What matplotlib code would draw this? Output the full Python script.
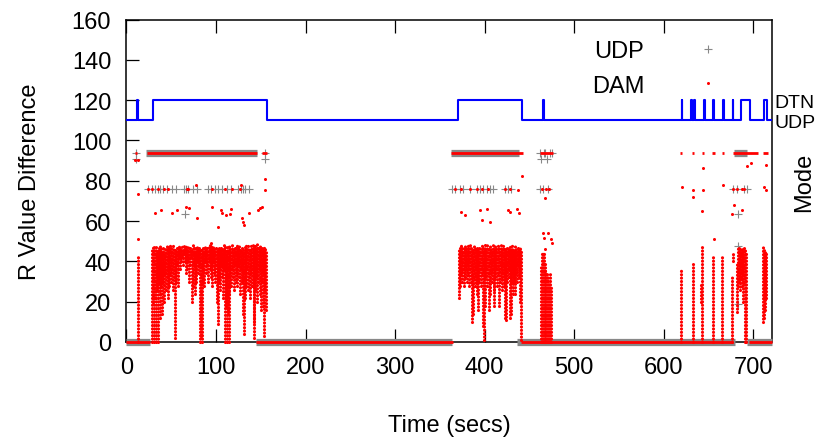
import numpy as np
import matplotlib
matplotlib.use('Agg')
import matplotlib.pyplot as plt

plt.rcParams['font.family'] = ['Liberation Sans', 'DejaVu Sans']

# operating mode, steps: time the mode starts (secs) / mode level (110 = UDP, 120 = DTN)
mode_t = [0, 12, 13, 30, 157, 370, 442, 465, 466, 620, 621, 631, 632, 634, 635,
          645, 646, 655, 656, 666, 667, 677, 678, 686, 696, 712, 715, 721]
mode_v = [110, 120, 110, 120, 110, 120, 110, 120, 110, 120, 110, 120, 110, 120, 110,
          120, 110, 120, 110, 120, 110, 120, 110, 120, 110, 120, 110, 110]

# UDP: runs of constant R value difference (start, end, value)
udp_run_start = [0, 22, 145, 363, 436, 679, 693]
udp_run_end = [26, 146, 364, 438, 680, 693, 721]
udp_run_val = [0, 94, 0, 94, 0, 94, 0]

# UDP: single samples off the runs
udp_t = [10.5, 10.5, 154.8, 154.8, 462, 463, 466, 468, 470, 473, 475,
         23.6, 28.9, 31.8, 34.8, 37.4, 41.2, 44.9, 50.5, 55, 64.6, 66.5, 69.1, 74.7,
         78.4, 91.4, 94.4, 98.9, 102.6, 107.1, 111.9, 116.8, 124.9, 127.9, 130.5,
         132.4, 136.9,
         363.3, 367, 372.6, 376.4, 383.8, 391.3, 395, 398, 402.5, 406.2, 409.2, 423,
         426.7, 429.7, 462, 465.7, 471.3,
         678, 681.7, 689.2, 692.9,
         65.4, 683.6, 683.6, 683.6]
udp_v = [94, 91, 94, 91, 94, 91, 94, 94, 91, 94, 94,
         76, 76, 76, 76, 76, 76, 76, 76, 76, 76, 76, 76, 76,
         76, 76, 76, 76, 76, 76, 76, 76, 76, 76, 76,
         76, 76,
         76, 76, 76, 76, 76, 76, 76, 76, 76, 76, 76, 76,
         76, 76, 76, 76, 76,
         76, 76, 76, 76,
         63.4, 63.4, 47.7, 18.8]

# DAM: runs of constant value
dam_run_start = [0, 145, 441, 695, 9.5, 22.5, 151, 363, 462, 618.5, 631.5, 642.5,
                 654.5, 665, 678, 711.5]
dam_run_end = [26, 365, 678, 721, 11.5, 146, 157, 443, 476, 621, 634, 645,
               657, 667.5, 705, 717]
dam_run_val = [0, 0, 0, 0, 94, 94, 94, 94, 94, 94, 94, 94,
               94, 94, 94, 94]

# DAM: vertical runs of samples (time, lowest value, highest value)
dam_col_t = [12.5,
             29, 30, 31, 32, 33, 34, 35, 36, 37, 38, 39, 40, 41, 42, 43, 44, 45, 46, 47, 48,
             49, 50, 51, 52, 53, 54, 55, 56, 57, 58, 59, 60, 61, 62, 63, 64, 65, 66, 67, 68,
             69, 70, 71, 72, 73, 74, 75, 76, 77, 78, 79, 80, 81, 82, 83, 84, 85, 86, 87, 88,
             89, 90, 91, 92, 93, 94, 95, 96, 97, 98, 99, 100, 101, 102, 103, 104, 105, 106,
             107, 108, 109, 110, 111, 112, 113, 114, 115, 116, 117, 118, 119, 120, 121, 122,
             123, 124, 125, 126, 127, 128, 129, 130, 131, 132, 133, 134, 135, 136, 137, 138,
             139, 140, 141, 142, 143, 144, 145, 146, 147, 148, 149, 150, 151, 152, 153, 154,
             155, 156,
             371, 372, 373, 374, 375, 376, 377, 378, 379, 380, 381, 382, 383, 384, 385, 386,
             387, 388, 389, 390, 391, 392, 393, 394, 395, 396, 397, 398, 399, 400, 401, 402,
             403, 404, 405, 406, 407, 408, 409, 410, 411, 412, 413, 414, 415, 416, 417, 418,
             419, 420, 421, 422, 423, 424, 425, 426, 427, 428, 429, 430, 431, 432, 433, 434,
             435, 436, 437, 438, 439, 440, 441,
             463, 464, 465, 466, 467, 468, 469, 470, 471, 472, 473, 474,
             619.6, 632.6, 641.8, 642.6, 655, 665, 676, 677,
             682, 683, 684, 685, 686, 687, 688, 689, 690, 691, 692,
             711.5, 712.5, 713.5, 714.5]
dam_col_lo = [0,
              0, 20, 0, 22, 0, 26, 0, 30, 24, 12, 28, 14, 30, 20, 34, 26, 32, 22, 36, 28,
              34, 30, 36, 26, 32, 2, 30, 38, 28, 36, 42, 36, 40, 42, 38, 44, 40, 34, 42, 36,
              40, 30, 38, 42, 20, 28, 38, 24, 36, 30, 40, 34, 38, 0, 2, 0, 30, 36, 28, 40,
              34, 38, 30, 40, 36, 32, 38, 28, 40, 34, 30, 38, 20, 9, 30, 36, 26, 38,
              32, 22, 36, 0, 18, 0, 14, 0, 24, 34, 28, 36, 32, 26, 38, 30,
              34, 28, 38, 32, 24, 36, 30, 14, 4, 22, 34, 28, 36, 26, 32, 22,
              34, 28, 36, 10, 2, 26, 32, 20, 30, 36, 24, 16, 30, 34, 18, 3,
              26, 16,
              22, 30, 28, 34, 30, 36, 28, 32, 36, 30, 34, 38, 28, 36, 30, 10,
              14, 32, 28, 36, 30, 24, 16, 30, 36, 28, 34, 8, 1, 18, 32, 36,
              28, 34, 16, 24, 34, 30, 36, 26, 18, 32, 36, 28, 34, 18, 30, 36,
              32, 26, 34, 28, 12, 11, 30, 36, 32, 12, 14, 30, 34, 24, 30, 24,
              34, 30, 38, 32, 36, 20, 1,
              0, 0, 0, 0, 0, 0, 0, 0, 0, 0, 0, 0,
              0, 0, 20, 0, 0, 0, 0, 40,
              15, 28, 30, 26, 32, 28, 34, 20, 30, 0, 0,
              10, 12, 16, 22]
dam_col_hi = [42,
              46, 47, 47, 46, 47, 45, 46, 47, 48, 46, 47, 45, 47, 44, 47, 46, 48, 47, 47, 45,
              48, 47, 46, 48, 47, 47, 45, 47, 46, 47, 48, 47, 46, 48, 45, 49, 48, 47, 48, 46,
              48, 47, 48, 47, 46, 48, 47, 45, 47, 48, 47, 46, 47, 46, 47, 45, 48, 47, 46, 48,
              47, 48, 46, 47, 48, 49, 47, 46, 48, 47, 45, 47, 46, 47, 48, 46, 47, 48,
              47, 46, 48, 47, 46, 47, 45, 47, 48, 47, 46, 48, 47, 46, 48, 47,
              48, 46, 47, 48, 47, 46, 48, 47, 45, 47, 48, 47, 46, 48, 47, 46,
              48, 47, 48, 47, 46, 48, 47, 49, 48, 47, 48, 47, 48, 47, 46, 48,
              47, 45,
              46, 47, 46, 48, 47, 46, 47, 48, 47, 46, 48, 47, 46, 48, 47, 46,
              47, 48, 47, 46, 48, 47, 46, 48, 47, 46, 48, 47, 46, 48, 47, 46,
              48, 47, 46, 48, 47, 46, 48, 47, 46, 48, 47, 46, 48, 47, 46, 48,
              47, 46, 48, 47, 46, 47, 48, 47, 46, 48, 47, 46, 48, 47, 46, 48,
              47, 46, 47, 46, 47, 46, 45,
              38, 44, 45, 44, 40, 36, 34, 35, 33, 30, 34, 28,
              36, 40, 30, 47, 43, 42, 33, 45,
              39, 47, 47, 46, 47, 46, 47, 46, 47, 46, 45,
              47, 46, 45, 44]

# DAM: isolated samples
dam_t = [10, 12.5, 12.5, 12.5,
         31.8, 38.2, 50.5, 56.8, 66.5, 70.2, 78.4, 77.3, 95.2, 102, 105.7, 106.4, 110.9,
         116.8, 116.1, 128, 129.5, 130.6, 131.7, 136.9, 146.6, 149.2, 151, 154.8, 154.8,
         24.4, 28.9, 35.6, 42.3, 46, 67.2, 69.1, 95.2, 110, 117.4, 126.8,
         373.7, 378.2, 394.9, 396.8, 402.4, 406.1, 426.6, 428.4, 436.6, 438, 442.1, 437,
         467.4, 471.1, 474.1, 474.8, 465.5, 466.5, 468,
         367, 373.4, 383.8, 391.3, 396.9, 404.3, 423, 428.6, 464, 468.7, 472.4,
         620, 632.6, 632.4, 642.5, 644.4, 644.4, 656, 666.5, 678.6, 676.7, 688, 693.6,
         697.3, 714, 712.6, 714, 678, 682, 687, 690]
dam_v = [90.5, 73.3, 51, 90.5,
         63.9, 65.3, 64.2, 65.3, 67, 66.3, 61.6, 77.9, 67, 56.9, 65.5, 64.2, 62.9,
         66.2, 63.4, 77.9, 61.4, 59.6, 58, 64.2, 65.3, 66.3, 67, 80.7, 75.4,
         76, 76, 76, 76, 76, 76, 76, 76, 76, 76, 76,
         64.5, 62.9, 65.5, 60.4, 65.8, 59.7, 65.3, 64.7, 66.2, 64.2, 82.5, 75.4,
         71.3, 54.1, 51.2, 49.2, 54.3, 51.6, 45.9,
         76, 76, 76, 76, 76, 76, 76, 76, 76, 76, 76,
         77, 75.4, 71.7, 65, 86.5, 75.4, 51, 77.9, 67.8, 63.4, 65.3, 87.3,
         88.6, 87.6, 77, 75.4, 76, 76, 76, 76]

ticks_x = [0, 100, 200, 300, 400, 500, 600, 700]
ticks_y = [0, 20, 40, 60, 80, 100, 120, 140, 160]

red = '#ff0000'
grey = '#888888'

fig = plt.figure(figsize=(8.17, 4.39), dpi=100)
ax = fig.add_axes([0.1548, 0.2187, 0.7901, 0.7346])

# UDP
ax.hlines(udp_run_val, udp_run_start, udp_run_end, colors=grey, lw=5.2, zorder=2,
          clip_on=False)
ax.plot(udp_t, udp_v, ls='none', marker='+', ms=5.5, mew=0.8, color=grey, zorder=2)

# DAM
ax.hlines(dam_run_val, dam_run_start, dam_run_end, colors=red, lw=2.0, zorder=3,
          clip_on=False)
cols = ax.vlines(dam_col_t, dam_col_lo, dam_col_hi, colors=red, lw=2.3,
                 linestyles=[(0, (0.01, 1.05))], zorder=3, clip_on=False)
cols.set_capstyle('round')
ax.plot(dam_t, dam_v, ls='none', marker='o', ms=2.2, mew=0, color=red, zorder=3)

# mode
ax.plot(mode_t, mode_v, drawstyle='steps-post', color='#0000ff', lw=1.5, zorder=4)

# legend
ax.plot([], [], ls='none', marker='+', ms=5.5, mew=0.8, color=grey, label='UDP')
ax.plot([], [], ls='none', marker='o', ms=2.2, mew=0, color=red, label='DAM')
handles, labels = ax.get_legend_handles_labels()
ax.legend(handles[-2:], labels[-2:], loc='upper right', bbox_to_anchor=(0.952, 0.966),
          frameon=False, markerfirst=False, fontsize=17, handlelength=2.0,
          handletextpad=1.7, labelspacing=0.54, numpoints=1, borderaxespad=0)

ax.set_xlim(0, 721)
ax.set_ylim(0, 160)
ax.set_xticks(ticks_x)
ax.set_yticks(ticks_y)
ax.tick_params(direction='in', length=9.4, width=0.9, labelsize=17, pad=10,
               top=True, right=True)
ax.tick_params(axis='y', pad=11)
for s in ax.spines.values():
    s.set_linewidth(1.1)
    s.set_zorder(1)

ax.set_xlabel('Time (secs)', fontsize=17, labelpad=26)
ax.set_ylabel('R Value Difference', fontsize=17, labelpad=22)

ax2 = ax.twinx()
ax2.set_ylim(0, 160)
ax2.set_yticks([110, 120])
ax2.set_yticklabels(['UDP', 'DTN'])
ax2.tick_params(axis='y', length=0, pad=2, labelsize=14)
for s in ax2.spines.values():
    s.set_visible(False)
fig.text(804 / 817, 1 - 182 / 439, 'Mode', rotation=90, ha='center', va='center',
         fontsize=17)

fig.savefig('out.png', dpi=100)
